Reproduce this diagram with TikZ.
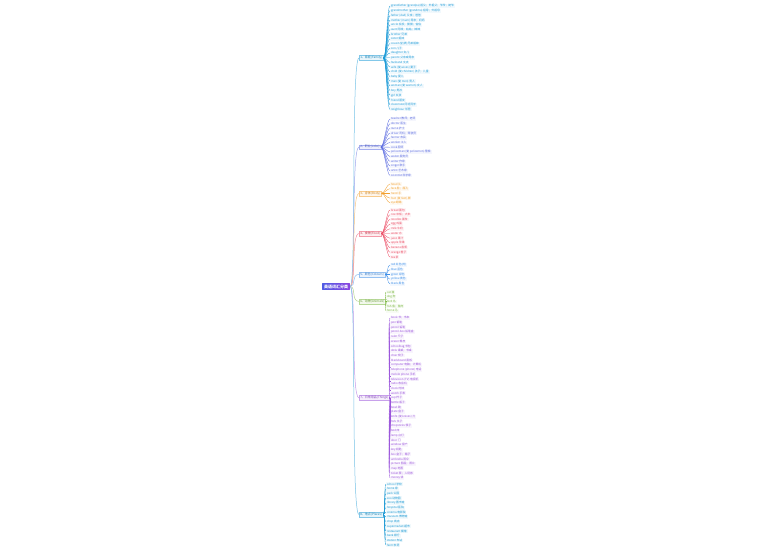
\documentclass[tikz,border=0pt]{standalone}
\usepackage{fontspec}
\setmainfont{Noto Sans CJK SC}
\definecolor{rootL}{HTML}{4F5BE3}
\definecolor{rootR}{HTML}{8B45E0}
\definecolor{cA}{HTML}{1E9BD7}
\definecolor{cB}{HTML}{5B6BE0}
\definecolor{cC}{HTML}{F2A02E}
\definecolor{cD}{HTML}{EB4A62}
\definecolor{cE}{HTML}{3E8FE8}
\definecolor{cF}{HTML}{7DB843}
\definecolor{cG}{HTML}{9B55DB}
\definecolor{cH}{HTML}{1A98D3}
\newcommand{\leaffont}{\fontsize{2.8}{3.3}\selectfont}
\newcommand{\branchfont}{\fontsize{3}{3.5}\selectfont}
\newcommand{\rootfont}{\fontsize{4}{4.6}\selectfont}

\begin{document}
\begin{tikzpicture}[x=1pt,y=-1pt,
  root/.style={left color=rootL, right color=rootR, text=white, font=\rootfont\bfseries,
    inner xsep=2pt, inner ysep=1.4pt, rounded corners=0.5pt},
  branch/.style={draw=#1!55, fill=#1!10, text=#1!85!black, font=\branchfont, anchor=west,
    inner xsep=1.2pt, inner ysep=0.8pt, line width=0.25pt},
  leaf/.style={anchor=west, text=#1, fill=#1!6, font=\leaffont, inner xsep=0.8pt, inner ysep=0.5pt},
  trunk/.style={draw=#1!60, line width=0.5pt},
  twig/.style={draw=#1, line width=0.35pt}]
\useasboundingbox (0,0) rectangle (771,552);

% centre
\node[root] (root) at (336,286.5) {英语词汇分类};

% branches
\node[branch=cA] (b1) at (359,58)    {1、家庭(Family)};
\node[branch=cB] (b2) at (359,147)   {2、职业(Jobs)};
\node[branch=cC] (b3) at (359,193.4) {3、身体(Body)};
\node[branch=cD] (b4) at (359,233.5) {4、食物(Food)};
\node[branch=cE] (b5) at (359,274.4) {5、颜色(Colours)};
\node[branch=cF] (b6) at (359,301.4) {6、动物(Animals)};
\node[branch=cG] (b7) at (359,397.9) {7、日常用品(Things)};
\node[branch=cH] (b8) at (359,514.5) {8、地点(Places)};

\foreach \b/\c in {b1/cA,b2/cB,b3/cC,b4/cD,b5/cE,b6/cF,b7/cG,b8/cH}
  \draw[trunk=\c] (root.east) .. controls +(6,0) and +(-8,0) .. (\b.west);

% leaves
\foreach \t [count=\i] in {grandfather (grandpa) 祖父；外祖父；爷爷；姥爷, grandmother (grandma) 祖母；外祖母,
  father (dad) 父亲；爸爸, mother (mum) 母亲；妈妈, uncle 叔叔；舅舅；伯伯, aunt 阿姨；姑姑；婶婶,
  brother 兄弟, sister 姐妹, cousin 堂(表)兄弟姐妹, son 儿子, daughter 女儿, parent 父亲或母亲,
  husband 丈夫, wife (复 wives) 妻子, child (复 children) 孩子；儿童, baby 婴儿,
  man (复 men) 男人, woman (复 women) 女人, boy 男孩, girl 女孩, friend 朋友,
  classmate 同班同学, neighbour 邻居}{
  \node[leaf=cA] (a\i) at (390,{6+(\i-1)*4.7}) {\t};
  \draw[twig=cA] (b1.east) .. controls +(3,0) and +(-3,0) .. (a\i.west);
}
\foreach \t [count=\i] in {teacher 教师；老师, doctor 医生, nurse 护士, driver 司机；驾驶员,
  farmer 农民, worker 工人, cook 厨师, policeman (复 policemen) 警察, waiter 服务员,
  writer 作家, singer 歌手, artist 艺术家, scientist 科学家}{
  \node[leaf=cB] (p\i) at (390,{119+(\i-1)*4.7}) {\t};
  \draw[twig=cB] (b2.east) .. controls +(3,0) and +(-3,0) .. (p\i.west);
}
\foreach \t [count=\i] in {head 头, face 脸；面孔, hand 手, foot (复 feet) 脚, eye 眼睛}{
  \node[leaf=cC] (s\i) at (390,{184+(\i-1)*4.7}) {\t};
  \draw[twig=cC] (b3.east) .. controls +(3,0) and +(-3,0) .. (s\i.west);
}
\foreach \t [count=\i] in {bread 面包, rice 米饭；大米, noodles 面条, egg 鸡蛋, milk 牛奶,
  water 水, juice 果汁, apple 苹果, banana 香蕉, orange 橙子, tea 茶}{
  \node[leaf=cD] (f\i) at (390,{210+(\i-1)*4.7}) {\t};
  \draw[twig=cD] (b4.east) .. controls +(3,0) and +(-3,0) .. (f\i.west);
}
\foreach \t [count=\i] in {red 红色(的), blue 蓝色, green 绿色, yellow 黄色, black 黑色}{
  \node[leaf=cE] (c\i) at (390,{265+(\i-1)*4.7}) {\t};
  \draw[twig=cE] (b5.east) .. controls +(3,0) and +(-3,0) .. (c\i.west);
}
\foreach \t [count=\i] in {cat 猫, dog 狗, bird 鸟, fish 鱼；鱼肉, horse 马}{
  \node[leaf=cF] (n\i) at (386,{292+(\i-1)*4.7}) {\t};
  \draw[twig=cF] (b6.east) .. controls +(2,0) and +(-2,0) .. (n\i.west);
}
\foreach \t [count=\i] in {book 书；书本, pen 钢笔, pencil 铅笔, pencil-box 铅笔盒, ruler 尺子,
  eraser 橡皮, schoolbag 书包, desk 课桌；书桌, chair 椅子, blackboard 黑板,
  computer 电脑；计算机, telephone (phone) 电话, mobile phone 手机, television (TV) 电视机,
  radio 收音机, clock 时钟, watch 手表, cup 杯子, bottle 瓶子, bowl 碗, plate 盘子,
  knife (复 knives) 刀, fork 叉子, chopsticks 筷子, bed 床, lamp 台灯, door 门,
  window 窗户, key 钥匙, box 盒子；箱子, umbrella 雨伞, picture 图画；照片, map 地图,
  ticket 票；入场券, money 钱}{
  \node[leaf=cG] (t\i) at (390,{318+(\i-1)*4.7}) {\t};
  \draw[twig=cG] (b7.east) .. controls +(3,0) and +(-3,0) .. (t\i.west);
}
\foreach \t [count=\i] in {school 学校, home 家, park 公园, zoo 动物园, library 图书馆,
  hospital 医院, cinema 电影院, museum 博物馆, shop 商店, supermarket 超市,
  restaurant 餐馆, bank 银行, station 车站, farm 农场}{
  \node[leaf=cH] (l\i) at (386,{484+(\i-1)*4.7}) {\t};
  \draw[twig=cH] (b8.east) .. controls +(2,0) and +(-2,0) .. (l\i.west);
}
\end{tikzpicture}
\end{document}
